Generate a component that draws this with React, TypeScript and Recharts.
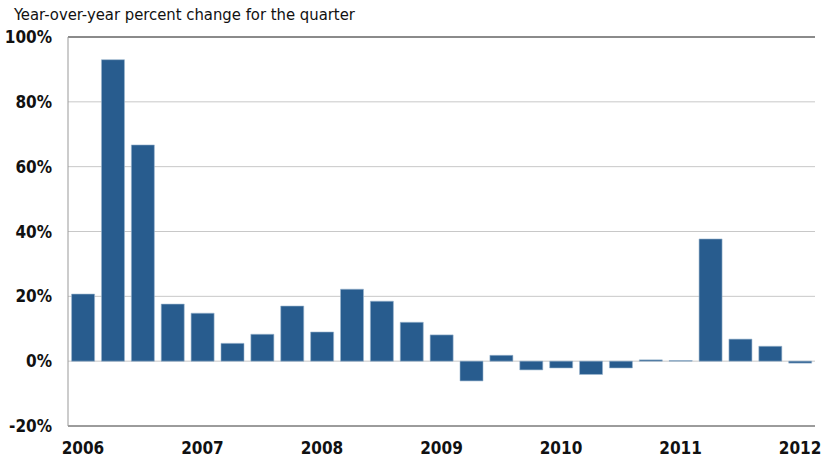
import { BarChart, Bar, XAxis, YAxis, CartesianGrid, ReferenceLine } from 'recharts';

const quarters = [
  '2006Q1', '2006Q2', '2006Q3', '2006Q4',
  '2007Q1', '2007Q2', '2007Q3', '2007Q4',
  '2008Q1', '2008Q2', '2008Q3', '2008Q4',
  '2009Q1', '2009Q2', '2009Q3', '2009Q4',
  '2010Q1', '2010Q2', '2010Q3', '2010Q4',
  '2011Q1', '2011Q2', '2011Q3', '2011Q4',
  '2012Q1',
];
const changes = [
  20.7, 93.0, 66.7, 17.6,
  14.8, 5.5, 8.3, 17.0,
  9.0, 22.2, 18.5, 12.0,
  8.1, -6.1, 1.8, -2.7,
  -2.1, -4.1, -2.1, 0.4,
  0.2, 37.7, 6.8, 4.6,
  -0.6,
];
const yTicks = [-20, 0, 20, 40, 60, 80, 100];
const title = 'Year-over-year percent change for the quarter';

const rows = quarters.map((q, i) => ({ q, v: changes[i] }));

const font = '"Liberation Sans Narrow", "Arial Narrow", "DejaVu Sans Condensed", sans-serif';
const tickStyle = { fontFamily: font, fontSize: 17, fontWeight: 700, fill: '#111' };

export default function App() {
  return (
    <div style={{ position: 'absolute', left: 0, top: 0, width: 833, height: 464, background: '#fff' }}>
      <div style={{ position: 'absolute', left: 14, top: 5, fontFamily: font, fontSize: 16.5, color: '#111', whiteSpace: 'nowrap' }}>
        {title}
      </div>
      <BarChart width={833} height={464} data={rows} margin={{ top: 37, right: 18, bottom: 0, left: 0 }} barCategoryGap="12%">
        <CartesianGrid vertical={false} stroke="#c8c8c8" />
        <XAxis
          dataKey="q"
          interval={0}
          height={38}
          tickLine={false}
          tickSize={0}
          tickMargin={16}
          axisLine={{ stroke: '#555' }}
          tick={tickStyle}
          tickFormatter={(q: string) => (q.endsWith('Q1') ? q.slice(0, 4) : '')}
        />
        <YAxis
          domain={[-20, 100]}
          ticks={yTicks}
          width={68}
          tickLine={false}
          tickSize={0}
          tickMargin={16}
          axisLine={{ stroke: '#999' }}
          tick={tickStyle}
          tickFormatter={(v: number) => `${v}%`}
        />
        <YAxis
          yAxisId="r"
          orientation="right"
          domain={[-20, 100]}
          width={0}
          tick={false}
          tickLine={false}
          axisLine={{ stroke: '#888', strokeWidth: 1.5 }}
        />
        <ReferenceLine y={100} stroke="#333" />
        <Bar dataKey="v" fill="#285c8e" stroke="#9bb5cf" strokeWidth={0.6} isAnimationActive={false} />
      </BarChart>
    </div>
  );
}
